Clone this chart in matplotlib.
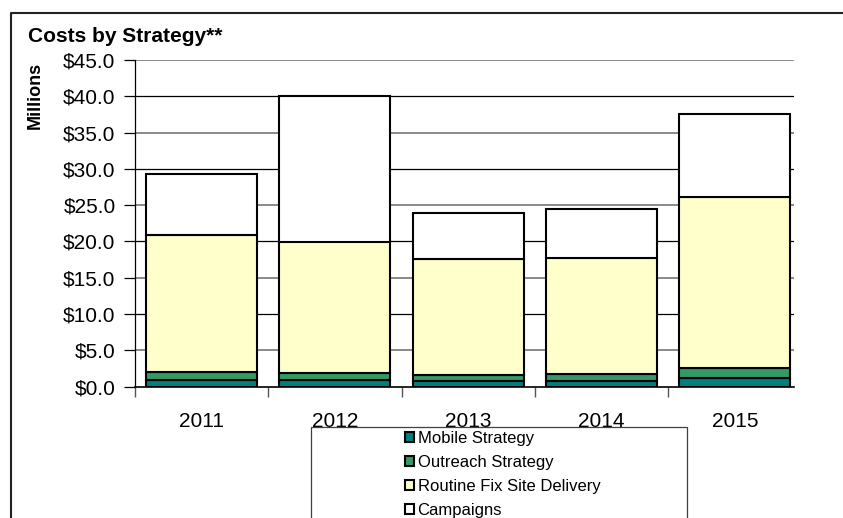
import numpy as np
import matplotlib
matplotlib.use("Agg")
import matplotlib.pyplot as plt
from matplotlib.patches import Rectangle, Patch
from matplotlib.lines import Line2D

plt.rcParams["font.family"] = ["Liberation Sans", "DejaVu Sans"]

# Costs by strategy, in millions of dollars
years = ["2011", "2012", "2013", "2014", "2015"]
mobile = [0.9, 0.9, 0.8, 0.8, 1.15]
outreach = [1.1, 0.95, 0.85, 0.9, 1.4]
routine = [18.9, 18.15, 15.95, 16.0, 23.55]
campaigns = [8.4, 20.0, 6.3, 6.8, 11.5]

series_names = ["Mobile Strategy", "Outreach Strategy",
                "Routine Fix Site Delivery", "Campaigns"]
series_colors = ["#008080", "#339966", "#FFFFCC", "#FFFFFF"]
y_ticks = [0, 5, 10, 15, 20, 25, 30, 35, 40, 45]

W, H = 843, 518
fig = plt.figure(figsize=(W / 100, H / 100), dpi=100)
fig.patch.set_facecolor("white")

# plot area in pixel terms
left_px, right_px, top_px, bottom_px = 135, 794, 60, 386.7
ax = fig.add_axes([left_px / W, 1 - bottom_px / H,
                   (right_px - left_px) / W, (bottom_px - top_px) / H])

x = np.arange(len(years))
base = np.zeros(len(years))
for vals, color, name in zip([mobile, outreach, routine, campaigns],
                             series_colors, series_names):
    ax.bar(x, vals, 0.833, bottom=base, color=color, edgecolor="black",
           linewidth=1.5, label=name, zorder=3)
    base += np.array(vals)

# horizontal gridlines
for v in y_ticks[1:]:
    if v % 10 == 0:
        ax.axhline(v, color="black", lw=0.9, zorder=1)
    else:
        ax.axhline(v, color="#808080", lw=1.3, zorder=1)

ax.set_yticks(y_ticks)
ax.set_yticklabels([f"${v:.1f}" for v in y_ticks])
ax.tick_params(axis="y", direction="out", length=8, width=0.9, color="black",
               labelsize=15, pad=6)

ax.set_xticks(x)
ax.set_xticklabels(years)
ax.tick_params(axis="x", which="major", length=0, labelsize=15, pad=18)
ax.set_xticks(np.arange(-0.5, len(years) - 0.5, 1.0), minor=True)
ax.tick_params(axis="x", which="minor", direction="out", length=7,
               width=1.0, color="#555555")

ax.set_ylim(0, 45)
ax.set_xlim(-0.5, -0.5 + (right_px - left_px) / 133.3)

for s in ["top", "right"]:
    ax.spines[s].set_visible(False)
ax.spines["left"].set_color("black")
ax.spines["left"].set_linewidth(0.9)
ax.spines["bottom"].set_color("black")
ax.spines["bottom"].set_linewidth(1.2)

# title and axis caption
fig.text(28 / W, 1 - 41.5 / H, "Costs by Strategy**", fontsize=15,
         fontweight="bold", ha="left", va="baseline")
fig.text(35 / W, 1 - 95 / H, "Millions", fontsize=13, fontweight="bold",
         rotation=90, ha="center", va="center")

# chart frame (top and left edges)
fig.add_artist(Line2D([11 / W, 11 / W, 1.0], [0.0, 1 - 12.7 / H, 1 - 12.7 / H],
                      transform=fig.transFigure, color="#222222", lw=1.5))

# legend box and entries
fig.add_artist(Rectangle((311 / W, -0.1), (687 - 311) / W, 0.1 + 1 - 426.7 / H,
                         transform=fig.transFigure, fill=False,
                         edgecolor="#404040", lw=0.9))
handles = [Patch(facecolor=c, edgecolor="black", linewidth=1.5)
           for c in series_colors]
fig.legend(handles, series_names, loc="upper left",
           bbox_to_anchor=(405 / W, 1 - 430.5 / H), frameon=False,
           fontsize=12, handlelength=0.55, handleheight=0.55,
           handletextpad=0.2, labelspacing=0.54, borderpad=0,
           borderaxespad=0)

fig.savefig("out.png", dpi=100)
